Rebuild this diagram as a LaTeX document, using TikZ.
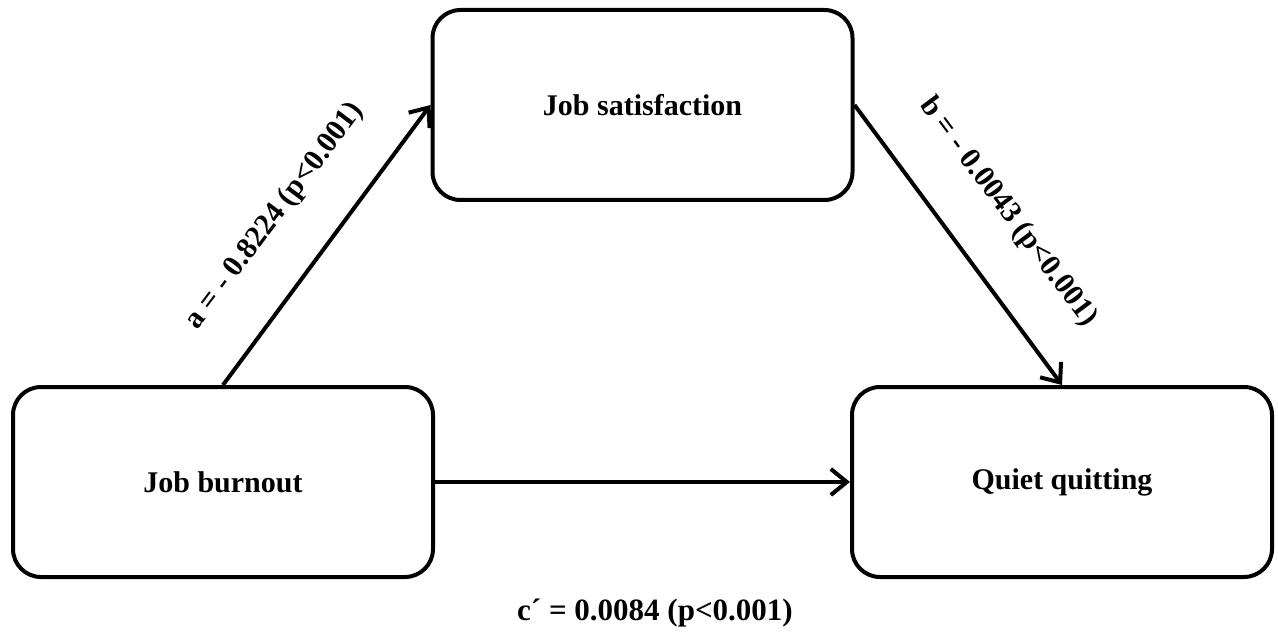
\documentclass[tikz,border=0pt]{standalone}
\usepackage{fontspec}
\setmainfont{Liberation Serif}
\usetikzlibrary{arrows.meta}
\begin{document}
\begin{tikzpicture}[x=1pt,y=-1pt,
  box/.style={draw, line width=4pt, rounded corners=28pt, minimum width=420pt, minimum height=190pt, inner sep=0pt, font=\fontsize{30}{36}\selectfont\bfseries},
  conn/.style={line width=4pt, -{Straight Barb[length=16pt,width=26pt,line width=4pt]}},
  lbl/.style={font=\fontsize{30}{36}\selectfont\bfseries, inner sep=0pt}]
\useasboundingbox (0,0) rectangle (1278,639);
\node[box] (sat) at (642.5,105) {Job satisfaction};
\node[box] (burn) at (223,482) {Job burnout};
\node[box] (quiet) at (1062,482) {Quiet quitting};
\draw[conn] (burn.north) -- (sat.west);
\draw[conn] (sat.east) -- (quiet.north);
\draw[conn] (burn.east) -- (quiet.west);
\node[lbl, rotate=53.1] (la) at (275,216) {a = - 0.8224 (p<0.001)};
\node[lbl, rotate=-53.3] (lb) at (1008,212) {b = - 0.0043 (p<0.001)};
\node[lbl, font=\fontsize{31}{36}\selectfont\bfseries] (lc) at (655,613) {c´ = 0.0084 (p<0.001)};
\end{tikzpicture}
\end{document}
